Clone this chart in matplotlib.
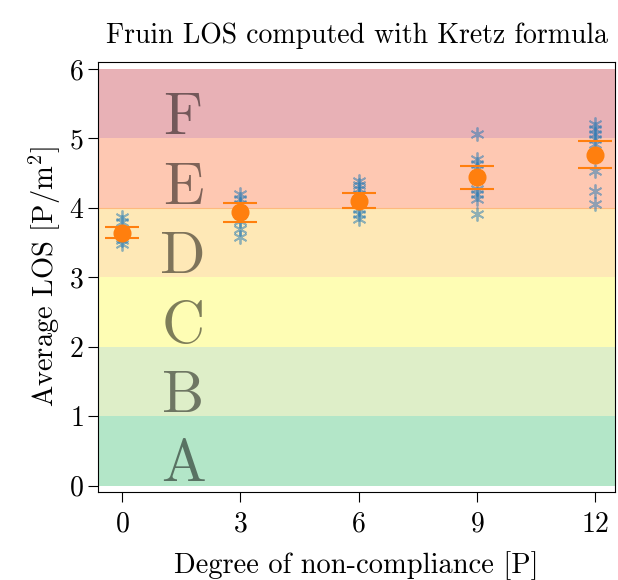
import matplotlib
matplotlib.use("Agg")
import matplotlib.pyplot as plt
import numpy as np

plt.rcParams['font.family'] = 'serif'
plt.rcParams['font.serif'] = ['cmr10']
plt.rcParams['mathtext.fontset'] = 'cm'
plt.rcParams['axes.formatter.use_mathtext'] = True

# degree of non-compliance and sampled LOS values per run
degrees = [0, 3, 6, 9, 12]
runs = [
    [3.87, 3.80, 3.53, 3.48],
    [4.20, 4.13, 4.06, 3.81, 3.70, 3.58],
    [4.39, 4.33, 4.27, 4.20, 4.13, 3.99, 3.91, 3.84],
    [5.06, 4.70, 4.63, 4.56, 4.27, 4.20, 4.13, 3.91],
    [5.21, 5.14, 5.06, 4.99, 4.92, 4.53, 4.24, 4.06],
]
means = [3.64, 3.94, 4.10, 4.45, 4.76]
upper = [3.73, 4.07, 4.22, 4.60, 4.96]
lower = [3.57, 3.80, 4.00, 4.27, 4.58]

los_labels = ['A', 'B', 'C', 'D', 'E', 'F']
band_colors = ['#b3e6c8', '#deeec8', '#fefdb4', '#fee8b6', '#fec8b2', '#e8b1b6']

fig, ax = plt.subplots(figsize=(6.18, 5.8), dpi=100)

for i, lab in enumerate(los_labels):
    ax.axhspan(i, i + 1, color=band_colors[i], lw=0, zorder=0)
    ax.text(1.55, i + 0.06, lab, fontsize=43, color='black', alpha=0.5,
            ha='center', va='baseline', zorder=1)
ax.axhline(4, color='#fdba7e', lw=0.8, zorder=0.5)

for d, vals in zip(degrees, runs):
    ax.plot([d] * len(vals), vals, linestyle='none', marker=(6, 2, 0), ms=10,
            mew=1.3, color='tab:blue', alpha=0.5, zorder=2)

ax.plot(degrees, upper, '_', ms=24, mew=1.5, color='tab:orange', zorder=3)
ax.plot(degrees, lower, '_', ms=24, mew=1.5, color='tab:orange', zorder=3)
ax.plot(degrees, means, 'o', ms=12, color='tab:orange', zorder=4)

ax.set_xlim(-0.6, 12.5)
ax.set_ylim(-0.09, 6.1)
ax.set_xticks(degrees)
ax.set_yticks(range(7))
ax.tick_params(labelsize=20, length=7)
ax.tick_params(axis='x', pad=7)
ax.set_xlabel('Degree of non-compliance [P]', fontsize=20.5, labelpad=10)
ax.set_ylabel('Average LOS [P/m$^2$]', fontsize=20.5)
ax.set_title('Fruin LOS computed with Kretz formula', fontsize=20, pad=14)

fig.subplots_adjust(left=0.159, right=0.995, top=0.893, bottom=0.152)
fig.savefig('out.png')
